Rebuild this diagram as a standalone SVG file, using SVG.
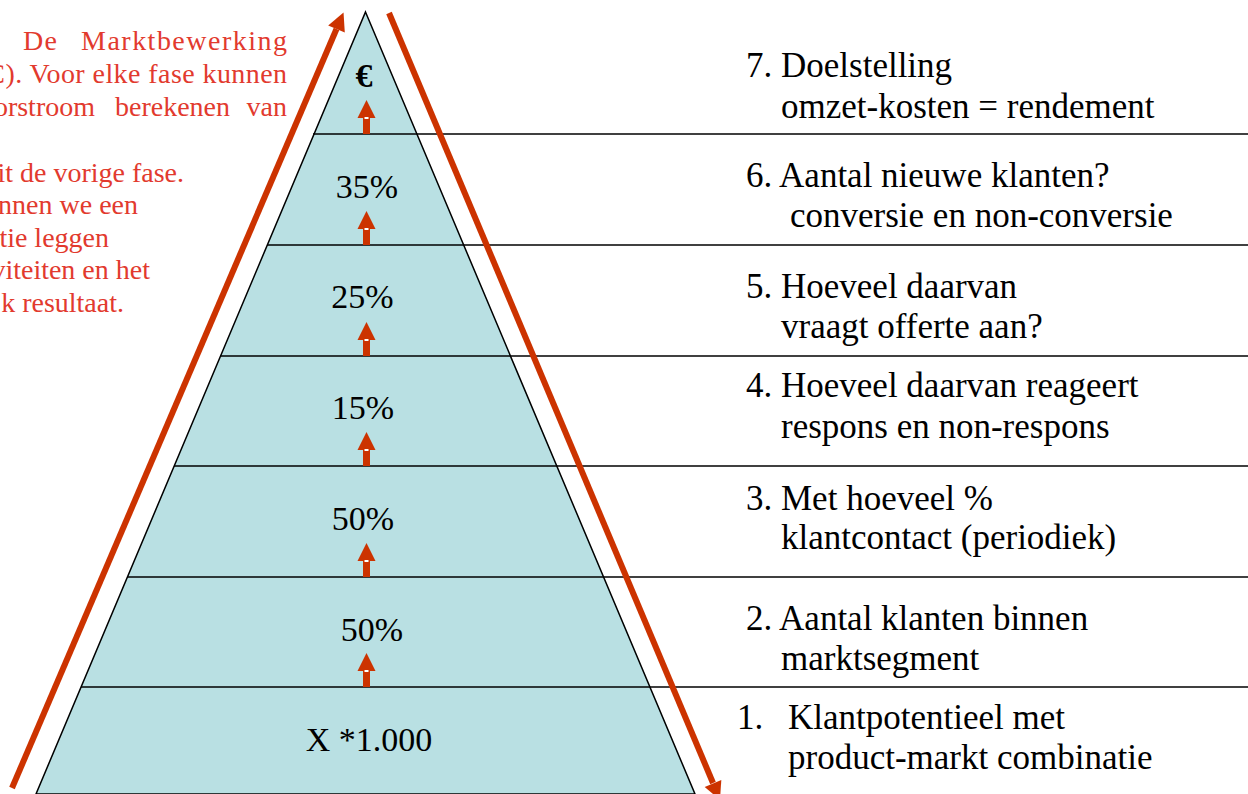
<svg xmlns="http://www.w3.org/2000/svg" xmlns:xlink="http://www.w3.org/1999/xlink" width="1248" height="794" viewBox="0 0 1248 794">
<style>
.t{font-family:'Liberation Serif',Tinos,'Times New Roman',Times,'DejaVu Serif',serif;font-size:34px;fill:#000}
.rt{font-size:35px}
.c{text-anchor:middle}
.r{font-family:'Liberation Serif',Tinos,'Times New Roman',Times,'DejaVu Serif',serif;font-size:28px;fill:#E23A2E}
.e{text-anchor:end}
.sep{stroke:#000;stroke-width:1.5;fill:none}
.big{stroke:#CC3300;stroke-width:6;fill:none}
.red{fill:#CC3300}
</style>
<defs>
<g id="blk">
<rect x="-3.5" y="-16" width="7" height="16" class="red"/>
<polygon points="0,-34 9,-16 -9,-16" class="red"/>
<rect x="-2" y="-17" width="4" height="2" fill="#fff"/>
</g>
</defs>
<rect width="1248" height="794" fill="#fff"/>
<g id="pyramid">
<polygon points="365.5,12 695,794 36,794" fill="#B9E0E3" stroke="#000" stroke-width="1.5"/>
</g>
<g id="separators">
<line class="sep" x1="313" y1="134" x2="1248" y2="134"/>
<line class="sep" x1="267" y1="245" x2="1248" y2="245"/>
<line class="sep" x1="220" y1="356" x2="1248" y2="356"/>
<line class="sep" x1="174" y1="466" x2="1248" y2="466"/>
<line class="sep" x1="127" y1="577" x2="1248" y2="577"/>
<line class="sep" x1="81" y1="687" x2="1248" y2="687"/>
</g>
<g id="intro-text" font-family="'Liberation Serif', 'Times New Roman', serif">
<text class="r" x="23" y="50" textLength="34">De</text>
<text class="r" x="81" y="50" textLength="206">Marktbewerking</text>
<text class="r" x="-13.7" y="83" textLength="300.7">C). Voor elke fase kunnen</text>
<text class="r e" x="95" y="116">orstroom</text>
<text class="r e" x="230" y="116">berekenen</text>
<text class="r e" x="287" y="116">van</text>
<text class="r e" x="184" y="182">it de vorige fase.</text>
<text class="r e" x="138" y="214">nnen we een</text>
<text class="r e" x="109" y="247">tie leggen</text>
<text class="r e" x="150" y="279">viteiten en het</text>
<text class="r e" x="124" y="312">k resultaat.</text>
</g>
<g id="level7">
<text class="t c" x="364" y="87" font-weight="bold">€</text>
<text class="t rt" x="746" y="77">7. Doelstelling</text>
<text class="t rt" x="781" y="118">omzet-kosten = rendement</text>
</g>
<g id="level6">
<text class="t c" x="367" y="198">35%</text>
<text class="t rt" x="746" y="187">6. Aantal nieuwe klanten?</text>
<text class="t rt" x="790" y="227">conversie en non-conversie</text>
</g>
<g id="level5">
<text class="t c" x="362.5" y="308">25%</text>
<text class="t rt" x="746" y="298">5. Hoeveel daarvan</text>
<text class="t rt" x="781" y="338">vraagt offerte aan?</text>
</g>
<g id="level4">
<text class="t c" x="363" y="419">15%</text>
<text class="t rt" x="746" y="397">4. Hoeveel daarvan reageert</text>
<text class="t rt" x="781" y="438">respons en non-respons</text>
</g>
<g id="level3">
<text class="t c" x="363" y="530">50%</text>
<text class="t rt" x="746" y="510">3. Met hoeveel %</text>
<text class="t rt" x="781" y="549">klantcontact (periodiek)</text>
</g>
<g id="level2">
<text class="t c" x="372" y="641">50%</text>
<text class="t rt" x="746" y="630">2. Aantal klanten binnen</text>
<text class="t rt" x="781" y="670">marktsegment</text>
</g>
<g id="level1">
<text class="t c" x="369" y="751">X *1.000</text>
<text class="t rt" x="737" y="729">1.</text>
<text class="t rt" x="788" y="729">Klantpotentieel met</text>
<text class="t rt" x="788" y="769">product-markt combinatie</text>
</g>
<g id="connectors">
<use xlink:href="#blk" x="366.5" y="134"/>
<use xlink:href="#blk" x="366.5" y="245"/>
<use xlink:href="#blk" x="366.5" y="356"/>
<use xlink:href="#blk" x="366.5" y="466"/>
<use xlink:href="#blk" x="366.5" y="577"/>
<use xlink:href="#blk" x="366.5" y="687"/>
<line class="big" x1="12" y1="788" x2="336.5" y2="29"/>
<polygon class="red" points="343.5,12.5 344.8,32.6 328.2,25.6"/>
<line class="big" x1="389" y1="13" x2="713" y2="783"/>
<polygon class="red" points="720,800 721.3,779.9 704.7,786.9"/>
</g>
</svg>
